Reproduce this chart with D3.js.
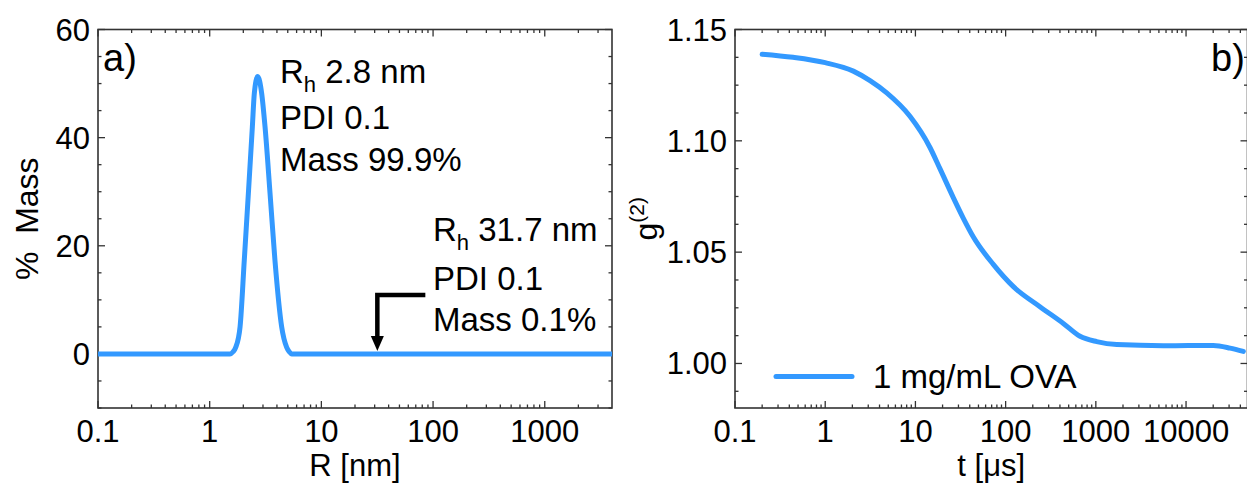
<!DOCTYPE html>
<html lang="en">
<head>
<meta charset="utf-8">
<title>DLS size distribution and correlation</title>
<script src="https://cdnjs.cloudflare.com/ajax/libs/d3/7.8.5/d3.min.js"></script>
<style>
  body { margin: 0; background: #fff; }
  svg { display: block; font-family: "Liberation Sans", Arial, sans-serif; }
</style>
</head>
<body>
<div id="chart"></div>
<script>
// panel a) mass distribution vs hydrodynamic radius
const radius = [0.1, 1, 1.52, 1.62, 1.71, 1.87, 2.04, 2.22, 2.41, 2.51, 2.69, 2.92, 3.13, 3.47, 3.84, 4.41, 4.89, 5.15, 5.42, 4000];
const massPct = [0, 0, 0, 0.4, 1.2, 5.0, 17.3, 29.7, 42.0, 48.2, 51.3, 48.2, 42.0, 29.7, 17.3, 5.0, 1.2, 0.4, 0, 0];
const xTicksA = [0.1, 1, 10, 100, 1000];
const yTicksA = [0, 20, 40, 60];

// panel b) correlation function
const lagTime = [0.2, 0.44, 1.0, 2.05, 3.14, 4.81, 8.7, 14.5, 18.7, 26.3, 34, 43.9, 73, 122, 240, 436, 668, 1023, 1706, 5610, 20100, 30760, 43150];
const g2 = [1.1389, 1.1375, 1.1351, 1.1313, 1.1270, 1.1215, 1.1110, 1.0970, 1.0875, 1.0745, 1.0652, 1.0568, 1.0445, 1.0345, 1.0255, 1.0180, 1.0122, 1.0098, 1.0085, 1.0080, 1.0081, 1.0069, 1.0054];
const xTicksB = [0.1, 1, 10, 100, 1000, 10000];
const yTicksB = [1.00, 1.05, 1.10, 1.15];

const peaks = [
  {r: 2.8, lines: ["2.8 nm", "PDI 0.1", "Mass 99.9%"]},
  {r: 31.7, lines: ["31.7 nm", "PDI 0.1", "Mass 0.1%"]}
];

const W = 1247, H = 483;
const blue = "#3399ff";
const frameCol = "#333";
const fs = 31;   // tick labels, axis titles
const fsAnn = 33; // annotations, legend

const svg = d3.select("#chart").append("svg").attr("width", W).attr("height", H);

// minor ticks for a log axis
function logMinor(lo, hi) {
  const out = [];
  for (let e = Math.floor(Math.log10(lo)); e <= Math.ceil(Math.log10(hi)); e++) {
    for (let k = 2; k <= 9; k++) {
      const v = k * Math.pow(10, e);
      if (v > lo && v < hi) out.push(v);
    }
  }
  return out;
}
function linMinor(lo, hi, step) {
  const out = [];
  for (let v = Math.ceil(lo / step) * step; v <= hi + 1e-9; v += step) out.push(+v.toFixed(6));
  return out;
}

function frame(g, x, y, xMajor, yMajor, xMinor, yMinor, xFmt, yFmt) {
  const [x0, x1] = x.range(), [y0, y1] = y.range();
  const ticks = g.append("g").attr("stroke", frameCol).attr("stroke-width", 1.3);
  const add = (vals, len, side) => vals.forEach(v => {
    if (side === "b") ticks.append("line").attr("x1", x(v)).attr("x2", x(v)).attr("y1", y0).attr("y2", y0 - len);
    if (side === "t") ticks.append("line").attr("x1", x(v)).attr("x2", x(v)).attr("y1", y1).attr("y2", y1 + len);
    if (side === "l") ticks.append("line").attr("y1", y(v)).attr("y2", y(v)).attr("x1", x0).attr("x2", x0 + len);
    if (side === "r") ticks.append("line").attr("y1", y(v)).attr("y2", y(v)).attr("x1", x1).attr("x2", x1 - len);
  });
  ["b", "t"].forEach(s => { add(xMajor, 7, s); add(xMinor, 3.5, s); });
  ["l", "r"].forEach(s => { add(yMajor, 7, s); add(yMinor, 3.5, s); });

  g.append("rect")
    .attr("x", x0).attr("y", y1).attr("width", x1 - x0).attr("height", y0 - y1)
    .attr("fill", "none").attr("stroke", frameCol).attr("stroke-width", 1.6);

  g.selectAll(".xl").data(xMajor).enter().append("text")
    .attr("x", d => x(d)).attr("y", y0 + 34)
    .attr("text-anchor", "middle").attr("font-size", fs).text(xFmt);
  g.selectAll(".yl").data(yMajor).enter().append("text")
    .attr("x", x0 - 8).attr("y", d => y(d) + 11)
    .attr("text-anchor", "end").attr("font-size", fs).text(yFmt);
}

// ---------- panel a ----------
const xa = d3.scaleLog().domain([0.1, 4000]).range([98, 612]);
const ya = d3.scaleLinear().domain([-10, 60]).range([408, 29.5]);
const ga = svg.append("g");

frame(ga, xa, ya, xTicksA, yTicksA,
  logMinor(0.1, 4000), linMinor(-10, 60, 5).filter(v => !yTicksA.includes(v)),
  d => d3.format("~g")(d), d => d);

ga.append("path")
  .datum(radius.map((r, i) => [r, massPct[i]]))
  .attr("fill", "none").attr("stroke", blue).attr("stroke-width", 5)
  .attr("stroke-linejoin", "round")
  .attr("d", d3.line().x(d => xa(d[0])).y(d => ya(d[1])).curve(d3.curveMonotoneX));

ga.append("text").attr("x", 103).attr("y", 71).attr("font-size", 38).text("a)");

ga.append("text").attr("transform", "translate(38," + ((29.5 + 408) / 2) + ") rotate(-90)")
  .attr("text-anchor", "middle").attr("font-size", 32).attr("xml:space", "preserve").text("%  Mass");
ga.append("text").attr("x", (98 + 612) / 2).attr("y", 476)
  .attr("text-anchor", "middle").attr("font-size", fs).text("R [nm]");

// peak annotations
const annPos = [{x: 280, y: [83, 129, 171]}, {x: 433, y: [241, 290, 331]}];
peaks.forEach((p, i) => {
  const pos = annPos[i];
  const t0 = ga.append("text").attr("x", pos.x).attr("y", pos.y[0]).attr("font-size", fsAnn);
  t0.append("tspan").text("R");
  t0.append("tspan").attr("font-size", 22).attr("dy", 9).text("h");
  t0.append("tspan").attr("dy", -9).text(" " + p.lines[0]);
  ga.append("text").attr("x", pos.x).attr("y", pos.y[1]).attr("font-size", fsAnn).text(p.lines[1]);
  ga.append("text").attr("x", pos.x).attr("y", pos.y[2]).attr("font-size", fsAnn).text(p.lines[2]);
});

// arrow to the small peak
const ax = xa(peaks[1].r), ay = ya(0);
ga.append("path")
  .attr("d", `M${ax + 48},295 H${ax} V${ay - 15}`)
  .attr("fill", "none").attr("stroke", "#000").attr("stroke-width", 4.5);
ga.append("path")
  .attr("d", `M${ax - 6.5},${ay - 18} L${ax + 6.5},${ay - 18} L${ax},${ay - 3} Z`)
  .attr("fill", "#000");

// ---------- panel b ----------
const xb = d3.scaleLog().domain([0.1, 48000]).range([735, 1247.5]);
const yb = d3.scaleLinear().domain([0.98, 1.15]).range([408, 29.5]);
const gb = svg.append("g");

frame(gb, xb, yb, xTicksB, yTicksB,
  logMinor(0.1, 48000), linMinor(0.98, 1.15, 0.0125).filter(v => !yTicksB.some(t => Math.abs(t - v) < 1e-6)),
  d => d3.format("~g")(d), d => d3.format(".2f")(d));

gb.append("path")
  .datum(lagTime.map((t, i) => [t, g2[i]]))
  .attr("fill", "none").attr("stroke", blue).attr("stroke-width", 5)
  .attr("stroke-linecap", "round").attr("stroke-linejoin", "round")
  .attr("d", d3.line().x(d => xb(d[0])).y(d => yb(d[1])).curve(d3.curveMonotoneX));

gb.append("text").attr("x", 1211).attr("y", 71).attr("font-size", 38).text("b)");

const gLab = gb.append("text").attr("transform", "translate(657," + ((29.5 + 408) / 2) + ") rotate(-90)")
  .attr("text-anchor", "middle").attr("font-size", 32);
gLab.append("tspan").text("g");
gLab.append("tspan").attr("font-size", 21).attr("dy", -13).text("(2)");

gb.append("text").attr("x", (735 + 1247.5) / 2).attr("y", 476)
  .attr("text-anchor", "middle").attr("font-size", fs).text("t [\u03bcs]");

// legend
gb.append("line").attr("x1", 776).attr("x2", 852).attr("y1", 376.5).attr("y2", 376.5)
  .attr("stroke", blue).attr("stroke-width", 5).attr("stroke-linecap", "round");
gb.append("text").attr("x", 873).attr("y", 388).attr("font-size", fsAnn).text("1 mg/mL OVA");
</script>
</body>
</html>
